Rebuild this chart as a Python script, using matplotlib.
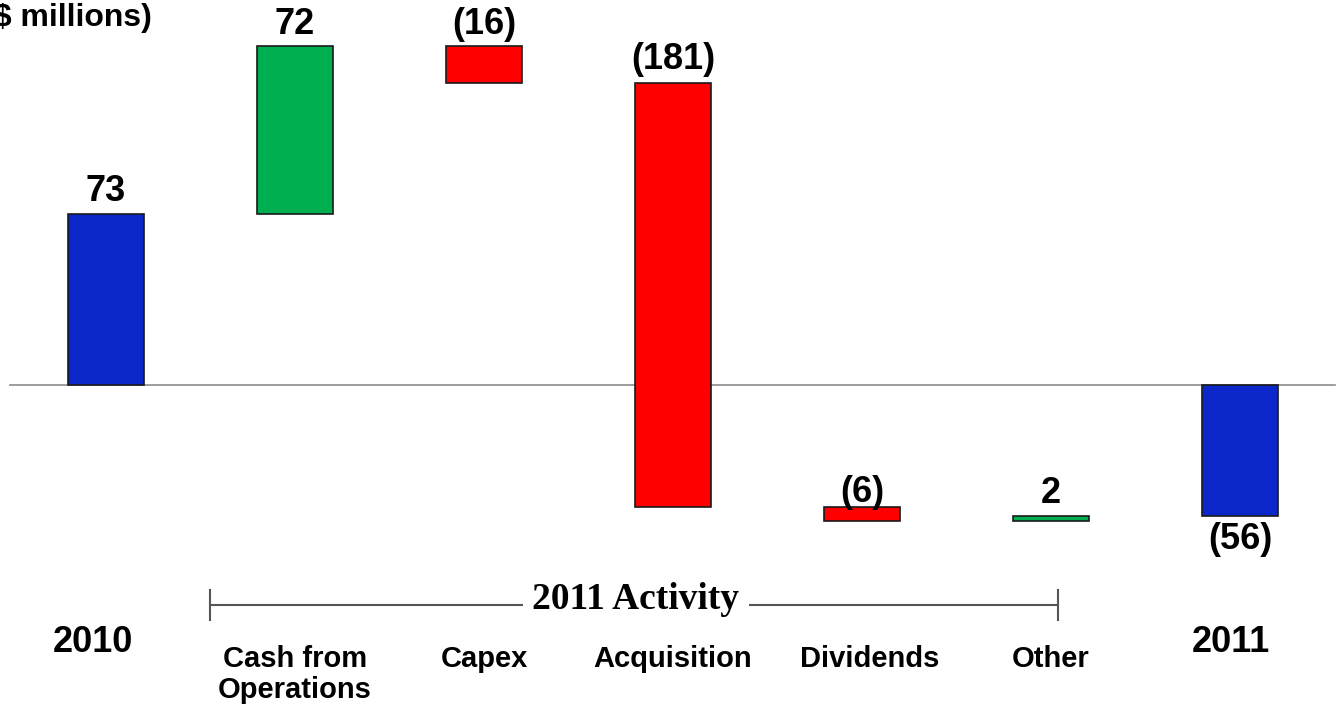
import numpy as np
import matplotlib.pyplot as plt

# cash walk, $ millions
categories = ["2010", "Cash from\nOperations", "Capex", "Acquisition",
              "Dividends", "Other", "2011"]
start_cash = 73
activity = [72, -16, -181, -6, 2]
end_cash = -56
value_labels = ["73", "72", "(16)", "(181)", "(6)", "2", "(56)"]

BLUE = "#0b26c9"
GREEN = "#00b050"
RED = "#ff0000"

plt.rcParams["font.family"] = ["Liberation Sans", "DejaVu Sans"]

fig = plt.figure(figsize=(13.4, 7.09), dpi=100)
ax = fig.add_axes([0, 0, 1, 1])
# one category step is 189 px, one $M is 2.34 px, zero line 385 px from top
ax.set_xlim(-106 / 189, (1340 - 106) / 189)
ax.set_ylim(-(709 - 385) / 2.34, 385 / 2.34)
ax.axis("off")

# bar spans: totals from zero, activity floating on running total
bottoms = [0]
heights = [start_cash]
colors = [BLUE]
running = start_cash
for v in activity:
    bottoms.append(running)
    heights.append(v)
    colors.append(GREEN if v > 0 else RED)
    running += v
bottoms.append(0)
heights.append(end_cash)
colors.append(BLUE)

x = np.arange(len(categories))
ax.plot([-0.508, 6.503], [0, 0], color="#8c8c8c", lw=1.2, zorder=1)
ax.bar(x, heights, bottom=bottoms, width=0.40, color=colors,
       edgecolor="#1a1a1a", linewidth=1.2, zorder=2)

# value labels: above the bar, except a negative closing total goes below
offsets = [5, 4, 4, 6, -3, 5]
for i in range(len(categories)):
    lo = min(bottoms[i], bottoms[i] + heights[i])
    hi = max(bottoms[i], bottoms[i] + heights[i])
    if i == len(categories) - 1 and heights[i] < 0:
        ax.annotate(value_labels[i], (x[i], lo), xytext=(0, -6),
                    textcoords="offset pixels", ha="center", va="top",
                    fontsize=26, fontweight="bold", zorder=3)
    else:
        ax.annotate(value_labels[i], (x[i], hi), xytext=(0, offsets[i]),
                    textcoords="offset pixels", ha="center", va="bottom",
                    fontsize=26, fontweight="bold", zorder=3)

# category labels under the chart
ax.text(x[0] - 0.07, -110, categories[0], ha="center", va="center",
        fontsize=26, fontweight="bold")
ax.text(x[-1] - 0.05, -110, categories[-1], ha="center", va="center",
        fontsize=26, fontweight="bold")
label_shift = [0, 0, 0, 0, 0.04, 0, 0]
for i in range(1, len(categories) - 1):
    ax.text(x[i] + label_shift[i], -111, categories[i], ha="center", va="top",
            fontsize=21, fontweight="bold", linespacing=1.15)

# bracket spanning the activity items
left, right = 0.55, 5.037
yb = -94
ax.plot([left, right], [yb, yb], color="#555555", lw=1.5, zorder=1)
ax.plot([left, left], [yb - 6.5, yb + 6.5], color="#555555", lw=1.5)
ax.plot([right, right], [yb - 6.5, yb + 6.5], color="#555555", lw=1.5)
ax.text((left + right) / 2 + 0.01, yb + 2.5, "2011 Activity", ha="center",
        va="center", fontsize=27, fontweight="bold",
        family=["Liberation Serif", "DejaVu Serif"], zorder=3,
        bbox=dict(boxstyle="square,pad=0.25", fc="white", ec="none"))

# units caption, partly cropped at the left edge
ax.text(152 / 189 - 106 / 189, 385 / 2.34 - 7.5, "($ millions)",
        ha="right", va="center", fontsize=23, fontweight="bold")

fig.savefig("out.png", dpi=100)
